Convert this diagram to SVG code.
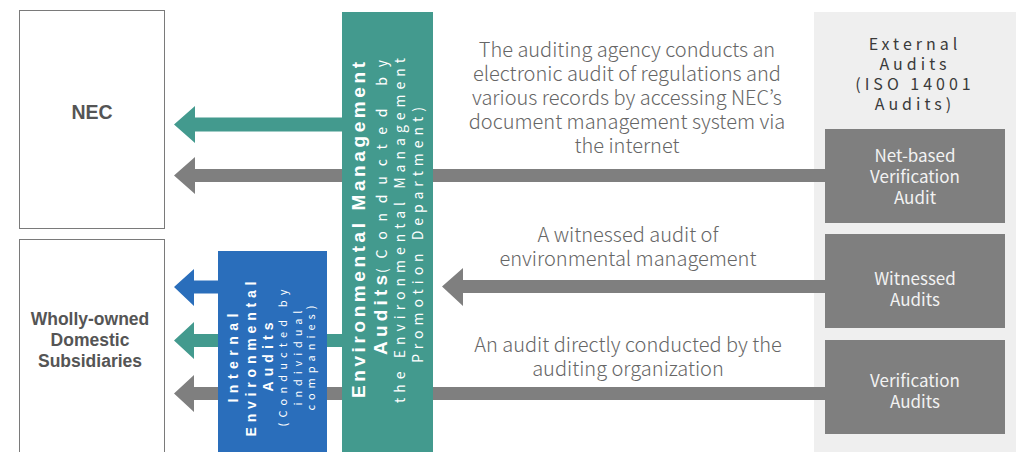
<svg xmlns="http://www.w3.org/2000/svg" width="1018" height="452" viewBox="0 0 1018 452">
<style>
.box{fill:#fff;stroke:#7a7a7a;stroke-width:1}
.lbl{font-family:"Liberation Sans",Arial,sans-serif;font-weight:bold;fill:#555;text-anchor:middle}
.desc{font-family:"Noto Sans CJK JP","Noto Sans",sans-serif;font-size:20px;font-weight:300;fill:#666;text-anchor:middle}
.ext{font-family:"Noto Sans CJK JP","Noto Sans",sans-serif;font-size:16px;fill:#3a3a3a;text-anchor:middle;letter-spacing:4px}
.gbox{fill:#7f7f7f}
.gtxt{font-family:"Noto Sans CJK JP","Noto Sans",sans-serif;font-size:17px;fill:#f2f2f2;text-anchor:middle}
.vb{font-family:"Liberation Sans",Arial,sans-serif;font-weight:bold;fill:#fff}
.vr{font-family:"Noto Sans CJK JP","Noto Sans",sans-serif;fill:#fff}
.teal{fill:#439a8e}
.blue{fill:#2a6ebb}
.gray{fill:#7f7f7f}
</style>
<rect width="1018" height="452" fill="#fff"/>

<g id="external-panel">
<rect x="814" y="12" width="202" height="440" fill="#efefef"/>
<text class="ext" x="915" y="50">External</text>
<text class="ext" x="915" y="70">Audits</text>
<text class="ext" x="915" y="90">(ISO 14001</text>
<text class="ext" x="915" y="110">Audits)</text>
</g>

<g id="nec">
<rect class="box" x="19.5" y="10.5" width="145" height="218"/>
<text class="lbl" x="92" y="119" font-size="19.5">NEC</text>
</g>

<g id="subsidiaries">
<rect class="box" x="19.5" y="239.5" width="145" height="220"/>
<text class="lbl" x="90" y="325" font-size="17.5">Wholly-owned</text>
<text class="lbl" x="90" y="346" font-size="17.5">Domestic</text>
<text class="lbl" x="90" y="367" font-size="17.5">Subsidiaries</text>
</g>

<g id="connectors">
<polygon class="teal" points="174,124.5 195,106 195,117.5 345,117.5 345,131.5 195,131.5 195,143"/>
<polygon class="gray" points="174,175.5 195,157 195,169 830,169 830,182 195,182 195,194"/>
<polygon class="blue" points="174,287 194,269 194,280.5 222,280.5 222,293.5 194,293.5 194,306"/>
<polygon class="teal" points="174,340.5 194,322 194,334 345,334 345,347 194,347 194,359"/>
<polygon class="gray" points="174,393.5 194,375 194,387 830,387 830,400 194,400 194,412"/>
<polygon class="gray" points="442,286.5 463,268 463,280 830,280 830,293 463,293 463,306"/>
</g>

<g id="env-mgmt-audits">
<rect class="teal" x="342" y="12" width="91" height="440"/>
<text class="vb" font-size="19" transform="translate(365,398) rotate(-90)" textLength="336" lengthAdjust="spacing">Environmental Management</text>
<text class="vb" font-size="19" transform="translate(387,355) rotate(-90)" textLength="80" lengthAdjust="spacing">Audits</text>
<text class="vr" font-size="14" transform="translate(387,273) rotate(-90)" textLength="213" lengthAdjust="spacing">(Conducted by</text>
<text class="vr" font-size="14" transform="translate(405,403) rotate(-90)" textLength="345" lengthAdjust="spacing">the Environmental Management</text>
<text class="vr" font-size="14" transform="translate(423,363) rotate(-90)" textLength="256" lengthAdjust="spacing">Promotion Department)</text>
</g>

<g id="internal-audits">
<rect class="blue" x="218" y="251" width="109" height="201"/>
<text class="vb" font-size="14" text-anchor="middle" transform="translate(238,358) rotate(-90)" textLength="89" lengthAdjust="spacing">Internal</text>
<text class="vb" font-size="14" text-anchor="middle" transform="translate(256,359) rotate(-90)" textLength="155" lengthAdjust="spacing">Environmental</text>
<text class="vb" font-size="14" text-anchor="middle" transform="translate(273,357) rotate(-90)" textLength="69" lengthAdjust="spacing">Audits</text>
<text class="vr" font-size="11" text-anchor="middle" transform="translate(287,358) rotate(-90)" textLength="137" lengthAdjust="spacing">(Conducted by</text>
<text class="vr" font-size="11" text-anchor="middle" transform="translate(302,358) rotate(-90)" textLength="95" lengthAdjust="spacing">individual</text>
<text class="vr" font-size="11" text-anchor="middle" transform="translate(315,358) rotate(-90)" textLength="105" lengthAdjust="spacing">companies)</text>
</g>

<g id="desc-net">
<text class="desc" x="627" y="57">The auditing agency conducts an</text>
<text class="desc" x="627" y="81">electronic audit of regulations and</text>
<text class="desc" x="627" y="105">various records by accessing NEC’s</text>
<text class="desc" x="627" y="129">document management system via</text>
<text class="desc" x="627" y="153">the internet</text>
</g>
<g id="desc-witnessed">
<text class="desc" x="628" y="242">A witnessed audit of</text>
<text class="desc" x="628" y="266">environmental management</text>
</g>
<g id="desc-verification">
<text class="desc" x="628" y="352">An audit directly conducted by the</text>
<text class="desc" x="628" y="376">auditing organization</text>
</g>

<g id="net-based">
<rect class="gbox" x="825" y="129" width="180" height="94"/>
<text class="gtxt" x="915" y="162">Net-based</text>
<text class="gtxt" x="915" y="183">Verification</text>
<text class="gtxt" x="915" y="204">Audit</text>
</g>
<g id="witnessed">
<rect class="gbox" x="825" y="234" width="180" height="94"/>
<text class="gtxt" x="915" y="285">Witnessed</text>
<text class="gtxt" x="915" y="306">Audits</text>
</g>
<g id="verification">
<rect class="gbox" x="825" y="340" width="180" height="94"/>
<text class="gtxt" x="915" y="387">Verification</text>
<text class="gtxt" x="915" y="408">Audits</text>
</g>
</svg>
